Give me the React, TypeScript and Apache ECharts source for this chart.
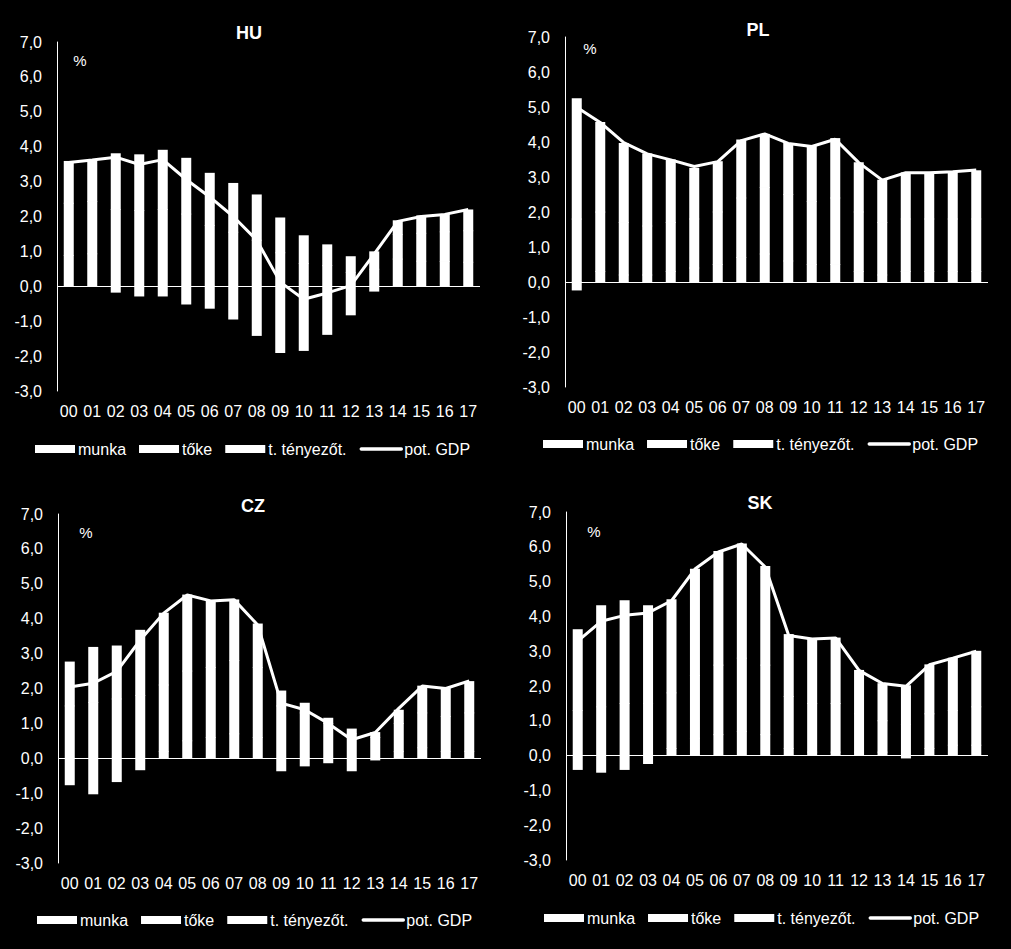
import React, { useEffect, useRef } from "react";
import * as echarts from "echarts";

const years = ["00","01","02","03","04","05","06","07","08","09","10","11","12","13","14","15","16","17"];
const seriesNames = ["munka", "tőke", "t. tényezőt.", "pot. GDP"];
const yTicks = { min: -3, max: 7, interval: 1 };

// HU
const huMunka = [0.88,0.93,2.20,2.17,2.20,2.07,1.74,1.55,1.32,0.96,0.65,0.59,0.40,0.49,0.78,0.72,0.71,0.69];
const huToke = [1.5,1.5,1.6,1.6,1.7,1.6,1.5,1.4,1.3,1.0,0.8,0.6,0.45,0.5,0.7,0.8,0.85,0.9];
const huTfp = [1.2,1.2,-0.17,-0.28,-0.28,-0.51,-0.63,-0.94,-1.41,-1.90,-1.84,-1.38,-0.82,-0.14,0.4,0.5,0.5,0.6];
const huGdp = [3.55,3.62,3.70,3.49,3.63,3.06,2.56,2.0,1.32,0.12,-0.37,-0.19,0.02,0.93,1.86,2.00,2.06,2.20];

// PL
const plMunka = [-0.23,0.3,0.2,0.2,0.3,0.4,0.5,0.7,0.8,0.6,0.5,0.5,0.3,0.2,0.3,0.3,0.3,0.3];
const plToke = [1.8,1.7,1.5,1.4,1.4,1.4,1.5,1.7,1.9,1.9,1.8,1.9,1.7,1.5,1.5,1.5,1.5,1.5];
const plTfp = [3.44,2.56,2.26,2.06,1.79,1.45,1.44,1.66,1.52,1.46,1.57,1.70,1.41,1.21,1.32,1.32,1.35,1.38];
const plGdp = [4.99,4.56,3.98,3.66,3.49,3.30,3.44,4.04,4.23,3.96,3.87,4.08,3.41,2.91,3.12,3.12,3.15,3.20];

// CZ
const czMunka = [-0.76,-1.02,-0.67,-0.33,0.2,0.5,0.6,0.7,0.6,-0.36,-0.22,-0.13,-0.36,-0.05,0.2,0.3,0.2,0.2];
const czToke = [1.5,1.6,1.7,1.8,1.9,2.0,2.0,2.1,2.0,1.5,1.3,1.0,0.7,0.6,0.8,1.0,1.0,1.1];
const czTfp = [1.26,1.58,1.52,1.87,2.06,2.18,1.92,1.74,1.25,0.43,0.28,0.15,0.14,0.14,0.38,0.77,0.80,0.90];
const czGdp = [2.04,2.15,2.49,3.39,4.16,4.68,4.51,4.54,3.82,1.58,1.39,1.00,0.53,0.74,1.43,2.07,2.00,2.22];

// SK
const skMunka = [-0.40,-0.48,-0.40,-0.23,0.2,0.5,0.6,0.7,0.6,0.2,0.1,0.1,0.1,0.1,-0.07,0.2,0.3,0.3];
const skToke = [1.3,1.4,1.5,1.5,1.6,1.8,2.0,2.1,2.0,1.5,1.4,1.4,1.1,0.9,0.9,1.0,1.0,1.1];
const skTfp = [2.32,2.91,2.95,2.81,2.68,3.06,3.27,3.28,2.84,1.78,1.85,1.88,1.25,1.07,1.11,1.41,1.50,1.60];
const skGdp = [3.29,3.86,4.03,4.10,4.45,5.36,5.85,6.08,5.42,3.45,3.35,3.38,2.45,2.07,1.99,2.61,2.80,3.00];

const panels = [
  { title: "HU", munka: huMunka, toke: huToke, tfp: huTfp, gdp: huGdp,
    grid: { left: 57, top: 42, width: 423, height: 349 },
    titlePos: [249, 33], pctPos: [80, 60], legend: { left: 35, top: 441 } },
  { title: "PL", munka: plMunka, toke: plToke, tfp: plTfp, gdp: plGdp,
    grid: { left: 565, top: 37, width: 423, height: 350 },
    titlePos: [758, 30], pctPos: [590, 48], legend: { left: 543, top: 436 } },
  { title: "CZ", munka: czMunka, toke: czToke, tfp: czTfp, gdp: czGdp,
    grid: { left: 58, top: 514, width: 423, height: 349 },
    titlePos: [253, 506], pctPos: [86, 532], legend: { left: 37, top: 912 } },
  { title: "SK", munka: skMunka, toke: skToke, tfp: skTfp, gdp: skGdp,
    grid: { left: 566, top: 512, width: 422, height: 348 },
    titlePos: [760, 503], pctPos: [594, 531], legend: { left: 544, top: 910 } },
];

const FONT = "Liberation Sans, Arial, sans-serif";
const BAR_W = 10;

export default function App() {
  const ref = useRef<HTMLDivElement>(null);
  useEffect(() => {
    document.body.style.background = "#000";
    const chart = echarts.init(ref.current!, undefined, { renderer: "svg" });
    const grids: any[] = [];
    const xAxes: any[] = [];
    const yAxes: any[] = [];
    const series: any[] = [];
    const legends: any[] = [];
    const graphics: any[] = [];
    panels.forEach((p, i) => {
      grids.push({ ...p.grid, containLabel: false });
      xAxes.push({
        type: "category", gridIndex: i, data: years,
        axisLine: { show: false }, axisTick: { show: false },
        axisLabel: { color: "#fff", fontSize: 16, fontFamily: FONT, margin: 12, interval: 0 },
        splitLine: { show: false },
      });
      yAxes.push({
        type: "value", gridIndex: i, min: yTicks.min, max: yTicks.max, interval: yTicks.interval,
        axisLine: { show: true, lineStyle: { color: "#fff", width: 1 } },
        axisTick: { show: false }, splitLine: { show: false },
        axisLabel: { color: "#fff", fontSize: 16, fontFamily: FONT, margin: 15,
          formatter: (v: number) => v.toFixed(1).replace(".", ",") },
      });
      const tableData = years.map((_, k) => [k, p.munka[k], p.toke[k], p.tfp[k]]);
      const stackedBar = (name: string, comp: number) => ({
        name, type: "custom", xAxisIndex: i, yAxisIndex: i,
        data: tableData,
        encode: { x: 0, y: comp + 1 },
        itemStyle: { color: "#fff" },
        renderItem: (_params: any, api: any) => {
          const k = api.value(0);
          const vals = [api.value(1), api.value(2), api.value(3)];
          const v = vals[comp];
          let base = 0;
          for (let j = 0; j < comp; j++) {
            if ((vals[j] >= 0) === (v >= 0)) base += vals[j];
          }
          const a = api.coord([k, base]);
          const b = api.coord([k, base + v]);
          let y0 = Math.min(a[1], b[1]);
          let h = Math.abs(a[1] - b[1]);
          // slight overlap to avoid anti-aliasing seams between segments
          y0 -= 0.4;
          h += 0.8;
          return {
            type: "rect",
            shape: { x: a[0] - BAR_W / 2, y: y0, width: BAR_W, height: h },
            style: { fill: "#fff" },
          };
        },
      });
      series.push(stackedBar("munka", 0));
      series.push(stackedBar("tőke", 1));
      series.push(stackedBar("t. tényezőt.", 2));
      series.push({
        name: "pot. GDP", type: "line", xAxisIndex: i, yAxisIndex: i, data: p.gdp,
        symbol: "none", lineStyle: { color: "#fff", width: 3 }, itemStyle: { color: "#fff" },
        z: 5,
        markLine: {
          silent: true, symbol: "none", label: { show: false },
          lineStyle: { color: "#fff", width: 1, type: "solid" },
          data: [{ yAxis: 0 }],
        },
      });
      legends.push({
        data: [
          { name: seriesNames[0], icon: "rect" },
          { name: seriesNames[1], icon: "rect" },
          { name: seriesNames[2], icon: "rect" },
          { name: seriesNames[3], itemStyle: { opacity: 0 }, lineStyle: { width: 3.5, cap: "round", color: "#fff" } },
        ],
        left: p.legend.left, top: p.legend.top, padding: 0,
        itemWidth: 40, itemHeight: 8, itemGap: 13, selectedMode: false,
        textStyle: { color: "#fff", fontSize: 16, fontFamily: FONT, padding: [0, 0, 0, -2] },
      });
      graphics.push({
        type: "text", x: p.titlePos[0], y: p.titlePos[1],
        style: { text: p.title, fill: "#fff", font: `bold 18px ${FONT}`, align: "center", verticalAlign: "middle" },
      });
      graphics.push({
        type: "text", x: p.pctPos[0], y: p.pctPos[1],
        style: { text: "%", fill: "#fff", font: `15px ${FONT}`, align: "center", verticalAlign: "middle" },
      });
    });
    chart.setOption({
      animation: false,
      backgroundColor: "#000",
      grid: grids, xAxis: xAxes, yAxis: yAxes, series, legend: legends, graphic: graphics,
    });
    return () => chart.dispose();
  }, []);
  return <div ref={ref} style={{ position: "fixed", left: 0, top: 0, width: 1011, height: 949, background: "#000" }} />;
}
